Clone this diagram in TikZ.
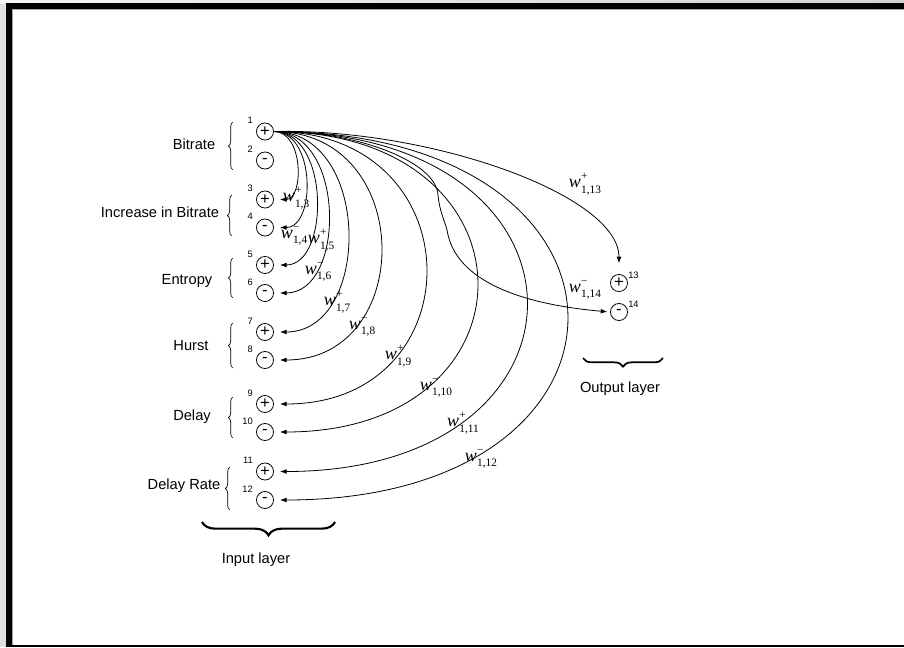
\documentclass[tikz,border=0pt]{standalone}
\usepackage{fontspec}
\setmainfont{Liberation Serif}
\setsansfont{Liberation Sans}
\usetikzlibrary{arrows.meta,calc,decorations.pathreplacing}
\newcommand{\wl}[2]{\textit{w}\kern0.2pt\rlap{\raisebox{1.0ex}{\fontsize{8.5}{9}\selectfont #1}}\raisebox{-0.65ex}{\fontsize{8.5}{9}\selectfont #2}}
\begin{document}
\begin{tikzpicture}[x=0.75pt,y=-0.75pt,
  neuron/.style={circle,draw,line width=0.6pt,minimum size=12.8pt,inner sep=0pt,font=\sffamily\fontsize{12.5}{12.5}\selectfont},
  num/.style={font=\sffamily\fontsize{7}{7}\selectfont,inner sep=0pt},
  grp/.style={font=\sffamily\fontsize{11}{11}\selectfont,inner sep=0pt},
  wt/.style={font=\rmfamily\fontsize{13.5}{13.5}\selectfont,inner sep=0pt},
  conn/.style={line width=0.6pt,-{Latex[length=5pt,width=3.6pt]},shorten >=4.5pt},
  lbrace/.style={decorate,decoration={brace,amplitude=3.5pt},line width=0.5pt},
  bigbrace/.style={decorate,decoration={brace,amplitude=#1},line width=1.6pt}]
\useasboundingbox (0,0) rectangle (904,647);
% frame
\fill[gray!25] (0,0) rectangle (904,647);
\shade[left color=gray!8,right color=gray!35] (0,0) rectangle (904,3);
\fill[black] (6,3) rectangle (904,647);
\fill[gray!70] (12,9) rectangle (904,645);
\fill[white] (13,10) rectangle (904,645);
% input neurons
\foreach \k/\y/\s in {1/131.5/+,2/160.5/-,3/199.5/+,4/227.5/-,5/265/+,6/293/-,7/332/+,8/360/-,9/404/+,10/432/-,11/471.5/+,12/500/-}{
  \node[neuron] (n\k) at (265,\y) {\s};
  \node[num,anchor=east] (l\k) at (253,\y-11) {\k};
}
% output neurons
\node[neuron] (n13) at (619,283) {+};
\node[neuron] (n14) at (619,312) {-};
\node[num,anchor=west] (l13) at (628,275) {13};
\node[num,anchor=west] (l14) at (628,304) {14};
% group labels
\node[grp] (g1) at (194,144) {Bitrate};
\node[grp] (g2) at (160,212) {Increase in Bitrate};
\node[grp] (g3) at (187,281) {Entropy};
\node[grp] (g4) at (191,346) {Hurst};
\node[grp] (g5) at (192,417) {Delay};
\node[grp] (g6) at (184,486) {Delay Rate};
% left braces
\draw[lbrace] (233,170) -- (233,122);
\draw[lbrace] (232,236) -- (232,195);
\draw[lbrace] (233,298) -- (233,258);
\draw[lbrace] (233,368) -- (233,323);
\draw[lbrace] (233,438) -- (233,397);
\draw[lbrace] (230,510) -- (230,467);
% layer braces
\draw[bigbrace=10pt] (335,522) -- (202,522);
\node[grp] (inl) at (256,560) {Input layer};
\draw[bigbrace=6.5pt,line width=1.3pt] (663,358) -- (583,358);
\node[grp] (outl) at (620,389) {Output layer};
% connectors to input neurons
\foreach \k/\a in {3/30,4/42,5/56,6/72,7/98,8/142,9/202,10/270,11/336,12/390}{
  \draw[conn] (n1.east) .. controls ($(n1.east)+(\a,0)$) and ($(n\k.east)+(\a,0)$) .. (n\k.east);
}
% connectors to output neurons
\draw[conn,shorten >=8pt] (n1.east) .. controls (430,128) and (619,195) .. (n13.north);
\draw[conn,shorten >=2pt] (n1.east) .. controls (350,130) and (436,160) .. (438,195) .. controls (440,215) and (446,222) .. (448,235) .. controls (460,285) and (530,305) .. (n14.west);
% weight labels
\node[wt] (w3) at (296,198) {\wl{+}{1,3}};
\node[wt] (w4) at (294,236) {\wl{−}{1,4}};
\node[wt] (w5) at (321,240) {\wl{+}{1,5}};
\node[wt] (w6) at (318,272) {\wl{−}{1,6}};
\node[wt] (w7) at (337,302) {\wl{+}{1,7}};
\node[wt] (w8) at (362,327) {\wl{−}{1,8}};
\node[wt] (w9) at (398,356) {\wl{+}{1,9}};
\node[wt] (w10) at (436,388) {\wl{−}{1,10}};
\node[wt] (w11) at (463,423) {\wl{+}{1,11}};
\node[wt] (w12) at (481,459) {\wl{−}{1,12}};
\node[wt] (w13) at (585,184) {\wl{+}{1,13}};
\node[wt] (w14) at (585,290) {\wl{−}{1,14}};
\end{tikzpicture}
\end{document}
